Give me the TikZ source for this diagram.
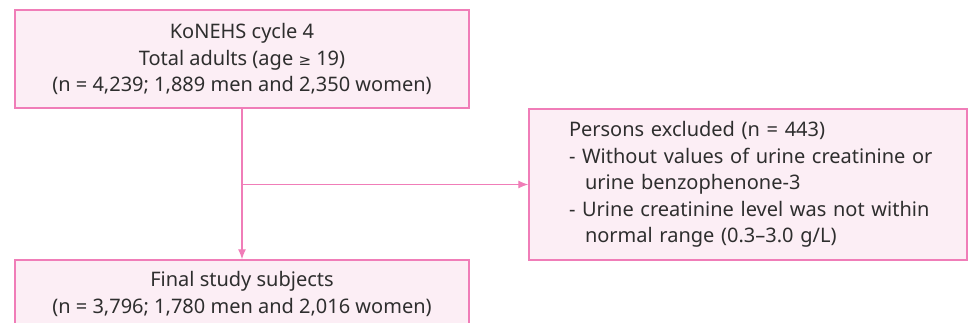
\documentclass[tikz,border=0pt]{standalone}
\usepackage{fontspec}
\setmainfont{Noto Sans}
\newfontfamily\symfont{DejaVu Sans}
\usetikzlibrary{arrows.meta}
\definecolor{pinkline}{HTML}{F07DB8}
\definecolor{pinkfill}{HTML}{FCEEF5}
\definecolor{txt}{HTML}{2E2E2E}
\tikzset{
  box/.style={draw=pinkline, fill=pinkfill, line width=1.4pt, rectangle, inner sep=0pt,
    text=txt, font=\fontsize{20}{26.5}\selectfont},
  conn/.style={draw=pinkline, line width=1.3pt},
  arr/.style={conn, -{Latex[length=10pt,width=8pt]}}
}
\begin{document}
\begin{tikzpicture}[x=1pt,y=-1pt]
\useasboundingbox (0,0) rectangle (968,323);
\clip (0,0) rectangle (968,323);
\node[box, minimum width=454pt, minimum height=98pt, align=center] (top) at (242,59)
  {KoNEHS cycle 4\\Total adults (age {\symfont\fontsize{15}{26.5}\selectfont\symbol{"2265}} 19)\\(n = 4,239; 1,889 men and 2,350 women)};
\node[box, minimum width=438pt, minimum height=151pt, text width=430pt, align=left] (excl) at (748,184.5)
  {\hspace*{36pt}Persons excluded (n = 443)\\
   \hspace*{36pt}- Without values of urine creatinine or\\
   \hspace*{52pt}urine benzophenone-3\\
   \hspace*{36pt}- Urine creatinine level was not within\\
   \hspace*{52pt}normal range (0.3\textendash3.0 g/L)};
\node[box, minimum width=454pt, minimum height=68pt, align=center] (final) at (242,294)
  {Final study subjects\\(n = 3,796; 1,780 men and 2,016 women)};
\coordinate (branch) at (top.south |- excl.west);
\draw[arr] (top.south) -- (final.north);
\draw[arr] (branch) -- (excl.west);
\end{tikzpicture}
\end{document}
